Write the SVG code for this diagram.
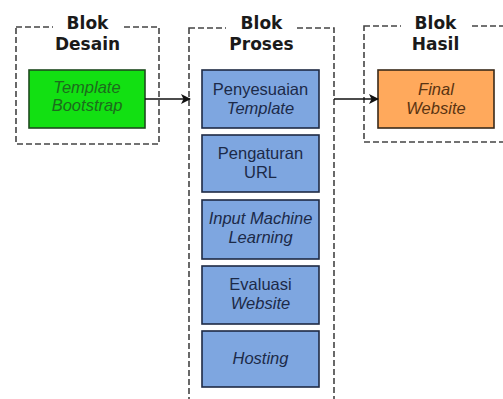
<svg xmlns="http://www.w3.org/2000/svg" width="503" height="399" viewBox="0 0 503 399">
  <defs>
    <marker id="arrow" viewBox="0 0 10 10" refX="9" refY="5" markerWidth="10" markerHeight="10" markerUnits="userSpaceOnUse" orient="auto">
      <path d="M0,0 L10,5 L0,10 L2.5,5 Z" fill="#111"/>
    </marker>
    <style>
      .block { fill: none; stroke: #444; stroke-width: 1.6; stroke-dasharray: 6 3; }
      .titlebg { fill: #fff; }
      .title { font-family: "DejaVu Sans", sans-serif; font-weight: bold; font-size: 17px; fill: #1a1a1a; text-anchor: middle; }
      .box { stroke-width: 1.6; }
      .green { fill: #12e012; stroke: #1f4a1f; }
      .blue { fill: #7ea6e0; stroke: #1e2a44; }
      .orange { fill: #ffa95c; stroke: #3a2a1a; }
      .label { font-family: "Liberation Sans", Arial, sans-serif; font-size: 16.5px; text-anchor: middle; }
      .it { font-style: italic; }
      .tg { fill: #1d6b1d; }
      .tb { fill: #1c2a48; }
      .to { fill: #5a3412; }
      .edge { stroke: #111; stroke-width: 1.5; fill: none; }
    </style>
  </defs>

  <rect width="503" height="399" fill="#fff"/>

  <!-- Design block -->
  <g id="blok-desain">
    <rect class="block" x="16" y="27" width="143" height="117"/>
    <rect class="titlebg" x="53" y="14" width="70" height="40"/>
    <text class="title" x="87.5" y="29">Blok</text>
    <text class="title" x="87.5" y="50">Desain</text>
  </g>

  <!-- Process block -->
  <g id="blok-proses">
    <rect class="block" x="189" y="28" width="145" height="380"/>
    <rect class="titlebg" x="226" y="14" width="71" height="40"/>
    <text class="title" x="261.5" y="29">Blok</text>
    <text class="title" x="261.5" y="50">Proses</text>
  </g>

  <!-- Result block -->
  <g id="blok-hasil">
    <rect class="block" x="364" y="26" width="143" height="116"/>
    <rect class="titlebg" x="401" y="14" width="70" height="40"/>
    <text class="title" x="435.5" y="29">Blok</text>
    <text class="title" x="435.5" y="50">Hasil</text>
  </g>

  <g id="template-bootstrap">
    <rect class="box green" x="29" y="70" width="116" height="58"/>
    <text class="label it tg" x="87" y="93">Template</text>
    <text class="label it tg" x="87" y="111">Bootstrap</text>
  </g>

  <g id="penyesuaian-template">
    <rect class="box blue" x="202" y="70" width="117" height="58"/>
    <text class="label tb" x="260.5" y="95">Penyesuaian</text>
    <text class="label it tb" x="260.5" y="114">Template</text>
  </g>

  <g id="pengaturan-url">
    <rect class="box blue" x="202" y="135" width="117" height="57"/>
    <text class="label tb" x="260.5" y="159">Pengaturan</text>
    <text class="label tb" x="260.5" y="178">URL</text>
  </g>

  <g id="input-machine-learning">
    <rect class="box blue" x="202" y="200" width="117" height="59"/>
    <text class="label it tb" x="260.5" y="224">Input Machine</text>
    <text class="label it tb" x="260.5" y="243">Learning</text>
  </g>

  <g id="evaluasi-website">
    <rect class="box blue" x="202" y="266" width="117" height="58"/>
    <text class="label tb" x="260.5" y="290">Evaluasi</text>
    <text class="label it tb" x="260.5" y="309">Website</text>
  </g>

  <g id="hosting">
    <rect class="box blue" x="202" y="331" width="117" height="56"/>
    <text class="label it tb" x="260.5" y="364">Hosting</text>
  </g>

  <g id="final-website">
    <rect class="box orange" x="378" y="70" width="116" height="58"/>
    <text class="label it to" x="436" y="95">Final</text>
    <text class="label it to" x="436" y="114">Website</text>
  </g>

  <!-- Connectors -->
  <g id="connectors">
    <line class="edge" x1="145" y1="99" x2="190" y2="99" marker-end="url(#arrow)"/>
    <line class="edge" x1="334" y1="99" x2="378" y2="99" marker-end="url(#arrow)"/>
  </g>
</svg>
